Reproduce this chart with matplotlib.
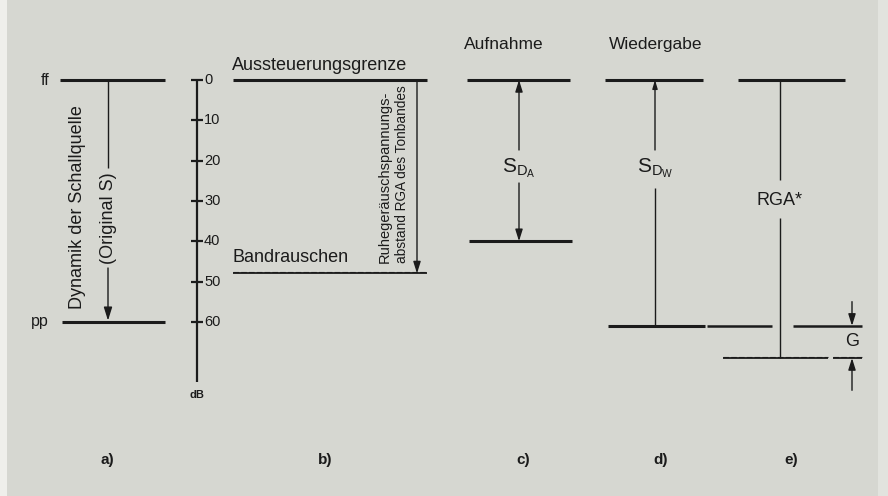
import matplotlib.pyplot as plt

plt.rcParams['font.family'] = ['Liberation Sans', 'DejaVu Sans']
plt.rcParams['mathtext.fontset'] = 'custom'
plt.rcParams['mathtext.rm'] = 'Liberation Sans'
plt.rcParams['mathtext.it'] = 'Liberation Sans'

# Pegel in dB unter der Aussteuerungsgrenze
source_levels = [0, 60]      # a) ff, pp
tape_levels = [0, 48]        # b) Aussteuerungsgrenze, Bandrauschen
rec_levels = [0, 40]         # c) Aufnahme S_DA
play_levels = [0, 61]        # d) Wiedergabe S_DW
rga_levels = [0, 69]         # e) RGA*
scale_ticks = [0, 10, 20, 30, 40, 50, 60]
scale_max = 75
panel_labels = ["a)", "b)", "c)", "d)", "e)"]

INK = "#1b1b1b"
BG = "#d6d7d1"

# Pixel -> dB Umrechnung (0 dB bei y=80 px, 4.03 px/dB)
Y0, PXDB = 80, 4.03


def db(px):
    return (px - Y0) / PXDB


fig = plt.figure(figsize=(8.88, 4.96), dpi=100, facecolor=BG)
ax = fig.add_axes([0, 0, 1, 1])
ax.set_facecolor(BG)
ax.set_xlim(0, 888)
ax.set_ylim(db(496), db(0))
ax.axis("off")

# Scan-Rand
ax.axvspan(0, 7, color="#efefeb", lw=0)
ax.axvspan(878, 888, color="#e2e3de", lw=0)


def hline(x0, x1, y, lw=2.2):
    ax.plot([x0, x1], [y, y], color=INK, lw=lw, solid_capstyle="butt")


def vline(x, y0, y1, lw=1.0):
    ax.plot([x, x], [y0, y1], color=INK, lw=lw, solid_capstyle="butt")


def wavy(x0, x1, y):
    ax.plot([x0, x1], [y, y], color=INK, lw=1.3, solid_capstyle="butt")
    ax.plot([x0, x1], [y - 0.35, y - 0.35], color=INK, lw=0.8,
            ls=(0, (5, 2)))


def arrow(x, y_from, y_to, lw=1.0, hl=0.7, hw=0.22):
    ax.annotate("", xy=(x, y_to), xytext=(x, y_from),
                arrowprops=dict(arrowstyle=f"-|>,head_length={hl},head_width={hw}",
                                color=INK, lw=lw, shrinkA=0, shrinkB=0))


def txt(x, y, s, size=12.5, **kw):
    ax.text(x, y, s, fontsize=size, color=INK, **kw)


# ---- a) Dynamik der Schallquelle
ff, pp = source_levels
hline(60, 165, ff)
hline(62, 165, pp)
txt(49, ff, "ff", size=11.5, ha="right", va="center")
txt(49, pp, "pp", size=11.5, ha="right", va="center")
txt(77, db(207), "Dynamik der Schallquelle", size=13, rotation=90,
    ha="center", va="center")
vline(108, ff, db(168))
arrow(108, db(268), pp - 0.3, hl=0.8, hw=0.25)
txt(108, db(218), "(Original S)", size=13, rotation=90, ha="center", va="center")

# dB-Skala
vline(197, 0, scale_max, lw=1.6)
for t in scale_ticks:
    hline(191, 203, t, lw=1.6)
    txt(204, t, str(t), size=10.5, ha="left", va="center")
txt(197, scale_max + 1.8, "dB", size=8, ha="center", va="top", fontweight="bold")

# ---- b) Tonband
top, noise = tape_levels
hline(233, 427, top)
wavy(233, 427, noise)
txt(232, top - 1.4, "Aussteuerungsgrenze", size=13, ha="left", va="bottom")
txt(232, noise - 1.8, "Bandrauschen", size=13, ha="left", va="bottom")
arrow(417, top, noise, lw=1.0)
txt(385, noise - 2.5, "Ruhegeräuschspannungs-", size=10.5, rotation=90,
    rotation_mode="anchor", ha="left", va="center")
txt(402, noise - 2.5, "abstand RGA des Tonbandes", size=9.8, rotation=90,
    rotation_mode="anchor", ha="left", va="center")

# ---- c) Aufnahme
txt(504, db(44), "Aufnahme", ha="center", va="center")
hline(467, 570, rec_levels[0])
hline(469, 572, rec_levels[1])
arrow(519, db(150), rec_levels[0])
arrow(519, db(183), rec_levels[1])
txt(519, db(168), r"$\mathregular{S_{D_A}}$", size=15, ha="center", va="center")

# ---- d) Wiedergabe
txt(656, db(44), "Wiedergabe", ha="center", va="center")
hline(605, 703, play_levels[0])
hline(608, 705, play_levels[1])
hline(707, 772, play_levels[1], lw=1.8)
hline(793, 862, play_levels[1], lw=1.8)
arrow(655, db(150), play_levels[0], hl=0.5, hw=0.15)
vline(655, db(188), play_levels[1])
txt(655, db(168), r"$\mathregular{S_{D_W}}$", size=15, ha="center", va="center")

# ---- e) RGA*
hline(738, 845, rga_levels[0])
vline(780, rga_levels[0], db(180))
vline(780, db(218), rga_levels[1])
txt(780, db(200), "RGA*", size=13, ha="center", va="center")
wavy(723, 828, rga_levels[1])
wavy(833, 862, rga_levels[1])

# Geräuschspannungsgewinn G
arrow(852, play_levels[1] - 6, play_levels[1])
arrow(852, rga_levels[1] + 8, rga_levels[1])
txt(852, (play_levels[1] + rga_levels[1]) / 2, "G", size=13, ha="center", va="center")

# Bezeichnungen unten
for x, lab in zip([107, 325, 523, 661, 791], panel_labels):
    txt(x, db(460), lab, size=11, ha="center", va="center", fontweight="bold")

fig.savefig("out.png", dpi=100, facecolor=BG)
